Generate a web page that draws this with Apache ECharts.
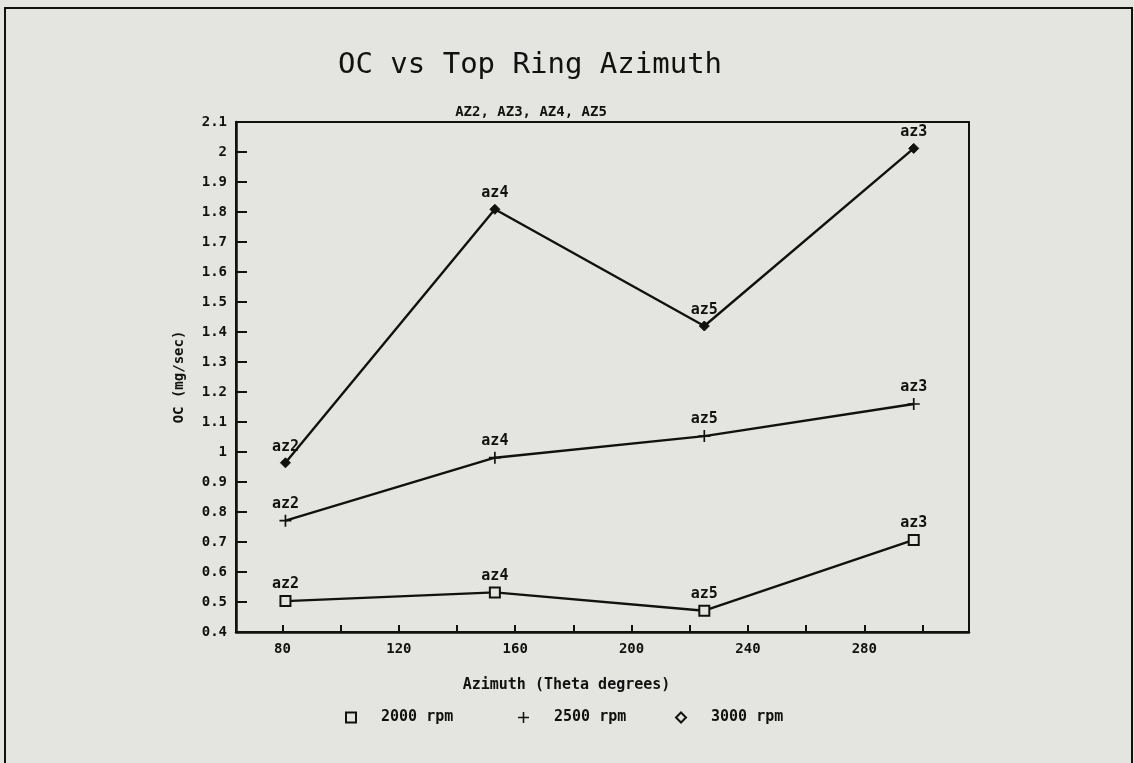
<!DOCTYPE html>
<html>
<head>
<meta charset="utf-8">
<script src="https://cdn.jsdelivr.net/npm/echarts@6/dist/echarts.min.js"></script>
<style>
html,body{margin:0;padding:0;background:#e4e5e0;}
#chart{width:1134px;height:763px;}
</style>
</head>
<body>
<div id="chart"></div>
<script>
// ---- data ----
var azimuth = [81, 153, 225, 297];
var pointLabels = ['az2', 'az4', 'az5', 'az3'];
var rpm2000 = [0.503, 0.532, 0.471, 0.707];
var rpm2500 = [0.771, 0.981, 1.053, 1.160];
var rpm3000 = [0.964, 1.809, 1.420, 2.012];
var seriesNames = ['2000 rpm', '2500 rpm', '3000 rpm'];
var xTickValues = [80, 100, 120, 140, 160, 180, 200, 220, 240, 260, 280, 300];
var xLabelValues = [80, 120, 160, 200, 240, 280];

var BG = '#e4e5e0';
var INK = '#111111';
var MONO = '"DejaVu Sans Mono", "Liberation Mono", monospace';
var PLUS = 'path://M4.3,0H5.7V4.3H10V5.7H5.7V10H4.3V5.7H0V4.3H4.3Z';

function build(vals) {
  return vals.map(function (v, i) {
    return { value: [azimuth[i], v], name: pointLabels[i] };
  });
}

var labelStyle = {
  show: true, position: 'top', distance: 3, formatter: '{b}',
  fontFamily: MONO, fontSize: 15, fontWeight: 'bold', color: INK
};

var chart = echarts.init(document.getElementById('chart'), null, { renderer: 'canvas' });
chart.setOption({
  backgroundColor: BG,
  animation: false,
  title: [
    { text: 'OC vs Top Ring Azimuth', left: 525, top: 46, textAlign: 'center',
      textStyle: { fontFamily: MONO, fontSize: 29, fontWeight: 'normal', color: INK } },
    { text: 'AZ2, AZ3, AZ4, AZ5', left: 526, top: 100, textAlign: 'center',
      textStyle: { fontFamily: MONO, fontSize: 14, fontWeight: 'bold', color: INK } }
  ],
  graphic: [
    { type: 'rect', shape: { x: 5, y: 8, width: 1127, height: 770 },
      style: { fill: 'none', stroke: INK, lineWidth: 2 }, silent: true }
  ],
  legend: [
    { data: [{ name: seriesNames[0], icon: 'rect', itemStyle: { color: BG, borderColor: INK, borderWidth: 2 } }],
      left: 340, top: 705, itemWidth: 10, itemHeight: 10, selectedMode: false,
      textStyle: { fontFamily: MONO, fontSize: 15, fontWeight: 'bold', color: INK, padding: [0, 0, 0, 20] } },
    { data: [{ name: seriesNames[1], icon: PLUS, itemStyle: { color: INK } }],
      left: 513, top: 705, itemWidth: 11, itemHeight: 11, selectedMode: false,
      textStyle: { fontFamily: MONO, fontSize: 15, fontWeight: 'bold', color: INK, padding: [0, 0, 0, 20] } },
    { data: [{ name: seriesNames[2], icon: 'diamond', itemStyle: { color: BG, borderColor: INK, borderWidth: 2 } }],
      left: 670, top: 705, itemWidth: 10, itemHeight: 10, selectedMode: false,
      textStyle: { fontFamily: MONO, fontSize: 15, fontWeight: 'bold', color: INK, padding: [0, 0, 0, 20] } }
  ],
  grid: { left: 236, right: 165, top: 122, bottom: 131, show: true,
    borderColor: INK, borderWidth: 2, backgroundColor: 'transparent' },
  xAxis: {
    type: 'value', min: 64, max: 316,
    name: 'Azimuth (Theta degrees)', nameLocation: 'middle', nameGap: 46,
    nameTextStyle: { fontFamily: MONO, fontSize: 15, fontWeight: 'bold', color: INK, padding: [0, 72, 0, 0] },
    axisLine: { show: true, lineStyle: { color: INK, width: 2.5 } },
    axisTick: { show: true, inside: true, length: 7, customValues: xTickValues, lineStyle: { color: INK, width: 2 } },
    axisLabel: { customValues: xLabelValues, margin: 10, fontFamily: MONO, fontSize: 14, fontWeight: 'bold', color: INK },
    splitLine: { show: false }
  },
  yAxis: {
    type: 'value', min: 0.4, max: 2.1, interval: 0.1,
    name: 'OC (mg/sec)', nameLocation: 'middle', nameGap: 50, nameRotate: 90,
    nameTextStyle: { fontFamily: MONO, fontSize: 14, fontWeight: 'bold', color: INK },
    axisLine: { show: true, lineStyle: { color: INK, width: 2.5 } },
    axisTick: { show: true, inside: true, length: 11, lineStyle: { color: INK, width: 2 } },
    axisLabel: { margin: 9, fontFamily: MONO, fontSize: 14, fontWeight: 'bold', color: INK },
    splitLine: { show: false }
  },
  series: [
    { name: seriesNames[0], type: 'line', data: build(rpm2000),
      symbol: 'rect', symbolSize: 10, showAllSymbol: true,
      lineStyle: { color: INK, width: 2.4 },
      itemStyle: { color: BG, borderColor: INK, borderWidth: 2 },
      label: labelStyle },
    { name: seriesNames[1], type: 'line', data: build(rpm2500),
      symbol: PLUS, symbolSize: 12, showAllSymbol: true,
      lineStyle: { color: INK, width: 2.4 },
      itemStyle: { color: INK, borderWidth: 0 },
      label: labelStyle },
    { name: seriesNames[2], type: 'line', data: build(rpm3000),
      symbol: 'diamond', symbolSize: 10, showAllSymbol: true,
      lineStyle: { color: INK, width: 2.4 },
      itemStyle: { color: INK, borderColor: INK, borderWidth: 1 },
      label: labelStyle }
  ]
});
</script>
</body>
</html>
